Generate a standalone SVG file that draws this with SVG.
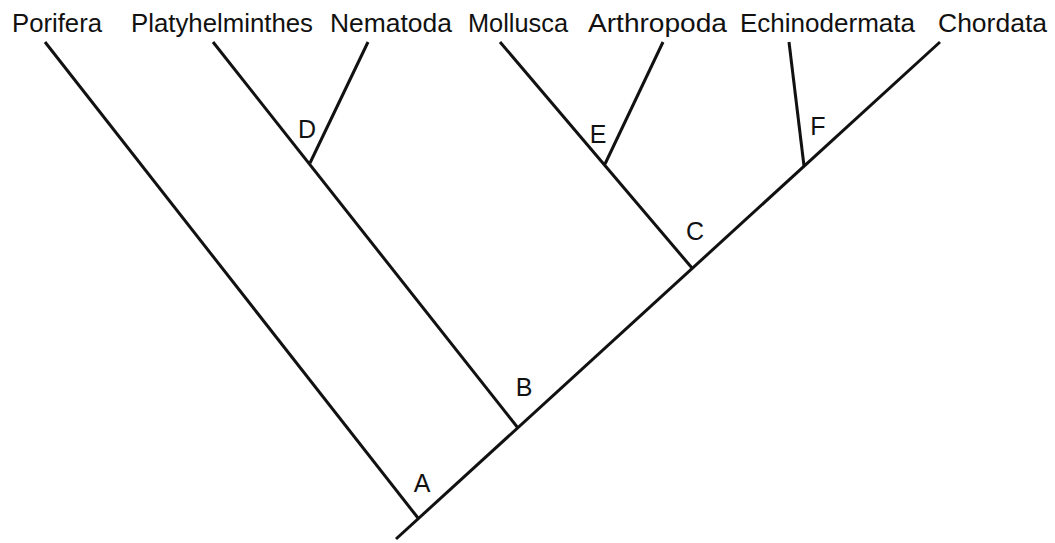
<svg xmlns="http://www.w3.org/2000/svg" width="1055" height="543" viewBox="0 0 1055 543">
<style>
.ln{stroke:#111;stroke-width:3;stroke-linecap:butt;fill:none}
.t{font-family:"Liberation Sans",Arial,sans-serif;font-size:25px;fill:#111}
</style>
<rect width="1055" height="543" fill="#fff"/>
<g id="connectors">
<line class="ln" x1="396" y1="539" x2="940" y2="42"/>
<line class="ln" x1="45" y1="42" x2="418" y2="518"/>
<line class="ln" x1="213" y1="42" x2="518" y2="428"/>
<line class="ln" x1="368" y1="42" x2="310" y2="163"/>
<line class="ln" x1="500" y1="42" x2="692" y2="268"/>
<line class="ln" x1="663" y1="42" x2="605" y2="164"/>
<line class="ln" x1="789" y1="42" x2="804" y2="166"/>
</g>
<g id="taxa">
<text id="porifera" class="t" x="12" y="32" textLength="90" lengthAdjust="spacingAndGlyphs">Porifera</text>
<text id="platyhelminthes" class="t" x="131" y="32" textLength="182" lengthAdjust="spacingAndGlyphs">Platyhelminthes</text>
<text id="nematoda" class="t" x="330" y="32" textLength="122" lengthAdjust="spacingAndGlyphs">Nematoda</text>
<text id="mollusca" class="t" x="468" y="32" textLength="100" lengthAdjust="spacingAndGlyphs">Mollusca</text>
<text id="arthropoda" class="t" x="588" y="32" textLength="139" lengthAdjust="spacingAndGlyphs">Arthropoda</text>
<text id="echinodermata" class="t" x="740" y="32" textLength="175" lengthAdjust="spacingAndGlyphs">Echinodermata</text>
<text id="chordata" class="t" x="938" y="32" textLength="109" lengthAdjust="spacingAndGlyphs">Chordata</text>
</g>
<g id="node-A"><text class="t" x="422" y="492" text-anchor="middle">A</text></g>
<g id="node-B"><text class="t" x="524" y="396" text-anchor="middle">B</text></g>
<g id="node-C"><text class="t" x="695" y="240" text-anchor="middle">C</text></g>
<g id="node-D"><text class="t" x="307" y="138" text-anchor="middle">D</text></g>
<g id="node-E"><text class="t" x="598" y="143" text-anchor="middle">E</text></g>
<g id="node-F"><text class="t" x="818" y="135" text-anchor="middle">F</text></g>
</svg>
